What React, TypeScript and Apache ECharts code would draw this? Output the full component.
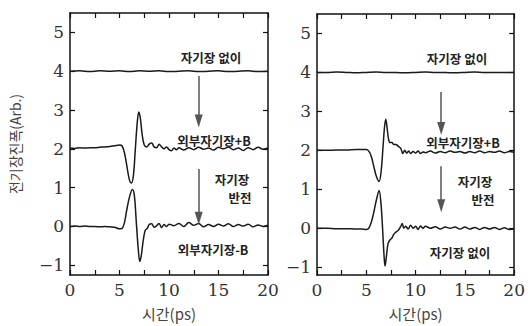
import React, { useEffect, useRef } from "react";
import * as echarts from "echarts";

const xTicks = [0, 5, 10, 15, 20];
const xMinorTicks = [0, 2.5, 5, 7.5, 10, 12.5, 15, 17.5, 20];
const yTicks = [-1, 0, 1, 2, 3, 4, 5];

const leftNoField: number[][] = [
  [0, 4.0], [1, 4.01], [2, 3.99], [3, 4.01], [4, 4.0], [5, 4.01], [6, 3.99], [7, 4.01], [8, 4.0],
  [9, 4.01], [10, 3.99], [11, 4.0], [12, 4.01], [13, 3.99], [14, 4.0], [15, 4.01], [16, 3.99],
  [17, 4.0], [18, 4.01], [19, 3.99], [20, 4.0],
];
const leftPlusB: number[][] = [
  [0, 2.02], [0.5, 2.01], [1, 2.03], [1.5, 2.02], [2, 2.03], [2.5, 2.03], [3, 2.04], [3.5, 2.05],
  [4, 2.06], [4.5, 2.08], [5, 2.1], [5.25, 2.08], [5.5, 1.9], [5.75, 1.55], [6.0, 1.2], [6.2, 1.12],
  [6.4, 1.3], [6.6, 2.0], [6.8, 2.7], [6.95, 2.95], [7.1, 2.8], [7.3, 2.35], [7.5, 2.1], [7.75, 2.05],
  [8.0, 2.12], [8.25, 2.15], [8.5, 2.05], [8.75, 2.03], [9.0, 2.12], [9.25, 2.05], [9.5, 2.0],
  [9.75, 2.05], [10, 1.98], [10.25, 1.95], [10.5, 2.02], [10.75, 1.98], [11, 2.03], [11.5, 1.97],
  [12, 2.03], [12.5, 1.98], [13, 2.04], [13.5, 1.99], [14, 2.02], [14.5, 1.97], [15, 2.04],
  [15.5, 2.0], [16, 2.05], [16.5, 1.98], [17, 2.02], [17.5, 1.96], [18, 2.03], [18.5, 1.98],
  [19, 2.04], [19.5, 1.99], [20, 2.02],
];
const leftMinusB: number[][] = [
  [0, 0.0], [0.5, 0.01], [1, 0.0], [1.5, 0.01], [2, 0.0], [2.5, 0.0], [3, -0.01], [3.5, 0.0],
  [4, -0.01], [4.5, -0.02], [5.0, -0.06], [5.25, -0.05], [5.5, 0.1], [5.75, 0.45], [6.0, 0.75],
  [6.3, 0.95], [6.5, 0.8], [6.7, 0.1], [6.9, -0.6], [7.05, -0.9], [7.2, -0.75], [7.4, -0.35],
  [7.6, -0.1], [7.8, -0.05], [8.0, 0.05], [8.25, 0.07], [8.5, -0.02], [8.75, 0.02], [9.0, 0.08],
  [9.25, -0.03], [9.5, 0.05], [9.75, 0.0], [10, 0.06], [10.5, 0.02], [11, 0.08], [11.5, 0.0],
  [12, 0.1], [12.5, 0.03], [13, 0.08], [13.5, -0.01], [14, 0.05], [14.5, 0.0], [15, 0.06],
  [15.5, 0.01], [16, 0.07], [16.5, 0.0], [17, 0.05], [17.5, 0.01], [18, 0.06], [18.5, -0.01],
  [19, 0.04], [19.5, 0.0], [20, 0.03],
];

const rightNoField: number[][] = [
  [0, 4.0], [1, 4.0], [2, 4.01], [3, 4.0], [4, 3.99], [5, 4.0], [6, 4.01], [7, 4.0], [8, 4.0],
  [9, 3.99], [10, 4.0], [11, 4.01], [12, 4.0], [13, 4.0], [14, 3.99], [15, 4.0], [16, 4.01],
  [17, 4.0], [18, 4.0], [19, 4.0], [20, 4.0],
];
const rightPlusB: number[][] = [
  [0, 2.0], [1, 2.0], [2, 2.01], [3, 2.01], [4, 2.02], [4.5, 2.02], [5.0, 2.02], [5.25, 1.98],
  [5.5, 1.85], [5.75, 1.6], [6.0, 1.35], [6.3, 1.2], [6.5, 1.45], [6.7, 2.1], [6.85, 2.6],
  [6.98, 2.8], [7.1, 2.6], [7.25, 2.3], [7.4, 2.2], [7.6, 2.2], [7.8, 2.15], [8.0, 2.15],
  [8.25, 2.1], [8.5, 2.05], [8.7, 1.92], [8.9, 2.0], [9.1, 1.93], [9.3, 1.98], [9.5, 1.92],
  [9.75, 1.97], [10, 1.93], [10.25, 1.98], [10.5, 1.92], [10.75, 1.96], [11, 1.94], [11.5, 1.98],
  [12, 1.93], [12.5, 1.97], [13, 1.94], [13.5, 1.98], [14, 1.95], [14.5, 1.97], [15, 1.93],
  [15.5, 1.97], [16, 1.94], [16.5, 1.98], [17, 1.94], [17.5, 1.97], [18, 1.95], [18.5, 1.98],
  [19, 1.94], [19.5, 1.97], [20, 1.95],
];
const rightMinusB: number[][] = [
  [0, 0.0], [1, 0.0], [2, -0.01], [3, -0.01], [4, -0.02], [4.5, -0.02], [5.0, -0.03], [5.25, 0.0],
  [5.5, 0.15], [5.75, 0.4], [6.0, 0.7], [6.3, 0.97], [6.5, 0.6], [6.65, 0.0], [6.8, -0.7],
  [6.9, -0.97], [7.05, -0.7], [7.2, -0.4], [7.4, -0.3], [7.6, -0.25], [7.8, -0.15], [8.0, -0.1],
  [8.25, -0.05], [8.5, 0.05], [8.65, 0.12], [8.8, 0.0], [9.0, 0.05], [9.25, -0.02], [9.5, 0.08],
  [9.75, 0.0], [10, 0.05], [10.25, -0.03], [10.5, 0.06], [10.75, 0.0], [11, 0.05], [11.5, 0.0],
  [12, 0.04], [12.5, -0.02], [13, 0.03], [13.5, 0.0], [14, 0.03], [14.5, -0.02], [15, 0.03],
  [15.5, -0.02], [16, 0.02], [16.5, -0.03], [17, 0.02], [17.5, -0.02], [18, 0.02], [18.5, -0.03],
  [19, 0.01], [19.5, -0.03], [20, -0.02],
];

// arrows: [x, yFrom, yTo]
const leftArrows = [[13.0, 3.88, 2.72], [13.0, 1.48, 0.21]];
const rightArrows = [[12.6, 3.5, 2.56], [12.6, 1.59, 0.58]];

const leftNotes = ["자기장 없이", "외부자기장+B", "자기장", "반전", "외부자기장-B"];
const rightNotes = ["자기장 없이", "외부자기장+B", "자기장", "반전", "자기장 없이"];

const xTitle = "시간(ps)";
const yTitle = "전기장진폭(Arb.)";

const SERIF = "DejaVu Serif";
const KR = "Noto Sans CJK KR";

export default function App() {
  const ref = useRef<HTMLDivElement>(null);
  useEffect(() => {
    if (!ref.current) return;
    const chart = echarts.init(ref.current, undefined, { renderer: "svg" });

    const lineCol = "#1a1a1a";
    const frame = { show: true, onZero: false, lineStyle: { color: "#111", width: 1.5 } };
    const tickIn = (vals: number[]) => ({
      show: true,
      inside: true,
      length: 5,
      customValues: vals,
      lineStyle: { color: "#111", width: 1.2 },
    });

    const mkX = (gi: number, pos: string, labels: boolean, name?: string) => ({
      type: "value",
      gridIndex: gi,
      position: pos,
      min: 0,
      max: 20,
      axisLine: frame,
      axisTick: tickIn(xMinorTicks),
      splitLine: { show: false },
      axisLabel: labels
        ? {
            show: true,
            margin: 7,
            fontFamily: SERIF,
            fontSize: 17,
            color: "#333",
            customValues: xTicks,
          }
        : { show: false },
      name: name || "",
      nameLocation: "middle",
      nameGap: 31,
      nameTextStyle: { fontFamily: KR, fontSize: 15, color: "#444" },
    });
    const mkY = (gi: number, pos: string, labels: boolean, min: number, name?: string) => ({
      type: "value",
      gridIndex: gi,
      position: pos,
      min,
      max: 5.5,
      axisLine: frame,
      axisTick: tickIn(yTicks),
      splitLine: { show: false },
      axisLabel: labels
        ? {
            show: true,
            margin: 6,
            fontFamily: SERIF,
            fontSize: 17,
            color: "#333",
            customValues: yTicks,
            formatter: (v: number) => (v < 0 ? "\u2212" + Math.abs(v) : String(v)),
          }
        : { show: false },
      name: name || "",
      nameLocation: "middle",
      nameRotate: 90,
      nameGap: 48,
      nameTextStyle: { fontFamily: KR, fontSize: 14, color: "#444" },
    });

    const line = (data: number[][], xi: number, yi: number, arrows?: number[][]) => ({
      type: "line",
      xAxisIndex: xi,
      yAxisIndex: yi,
      data,
      showSymbol: false,
      smooth: 0.35,
      lineStyle: { color: lineCol, width: 1.5 },
      markLine: arrows
        ? {
            silent: true,
            symbol: ["none", "triangle"],
            symbolSize: [8, 13],
            label: { show: false },
            lineStyle: { color: "#555", width: 1.5, type: "solid" },
            data: arrows.map((a) => [{ coord: [a[0], a[1]] }, { coord: [a[0], a[2]] }]),
          }
        : undefined,
    });

    const note = (text: string, x: number, y: number) => ({
      type: "text",
      x,
      y,
      style: {
        text,
        fontFamily: KR,
        fontSize: 12.5,
        fontWeight: "bold",
        fill: "#222",
        align: "center",
        verticalAlign: "middle",
      },
    });

    const leftPos = [[211, 57], [214, 140], [232, 179], [240, 197], [213, 249]];
    const rightPos = [[457, 58], [463, 142], [475, 181], [483, 199], [460, 252]];

    chart.setOption({
      animation: false,
      backgroundColor: "#fff",
      grid: [
        { left: 70, top: 13, width: 198, height: 267 },
        { left: 317, top: 14, width: 203, height: 264 },
      ],
      xAxis: [
        mkX(0, "bottom", true, xTitle),
        mkX(0, "top", false),
        mkX(1, "bottom", true, xTitle),
        mkX(1, "top", false),
      ],
      yAxis: [
        mkY(0, "left", true, -1.25, yTitle),
        mkY(0, "right", false, -1.25),
        mkY(1, "left", true, -1.2),
        mkY(1, "right", false, -1.2),
      ],
      series: [
        line(leftNoField, 0, 0, leftArrows),
        line(leftPlusB, 0, 0),
        line(leftMinusB, 0, 0),
        line(rightNoField, 2, 2, rightArrows),
        line(rightPlusB, 2, 2),
        line(rightMinusB, 2, 2),
      ],
      graphic: [
        ...leftNotes.map((t, i) => note(t, leftPos[i][0], leftPos[i][1])),
        ...rightNotes.map((t, i) => note(t, rightPos[i][0], rightPos[i][1])),
      ],
    });
    return () => chart.dispose();
  }, []);
  return <div ref={ref} style={{ width: 528, height: 326, position: "absolute", left: 0, top: 0 }} />;
}
